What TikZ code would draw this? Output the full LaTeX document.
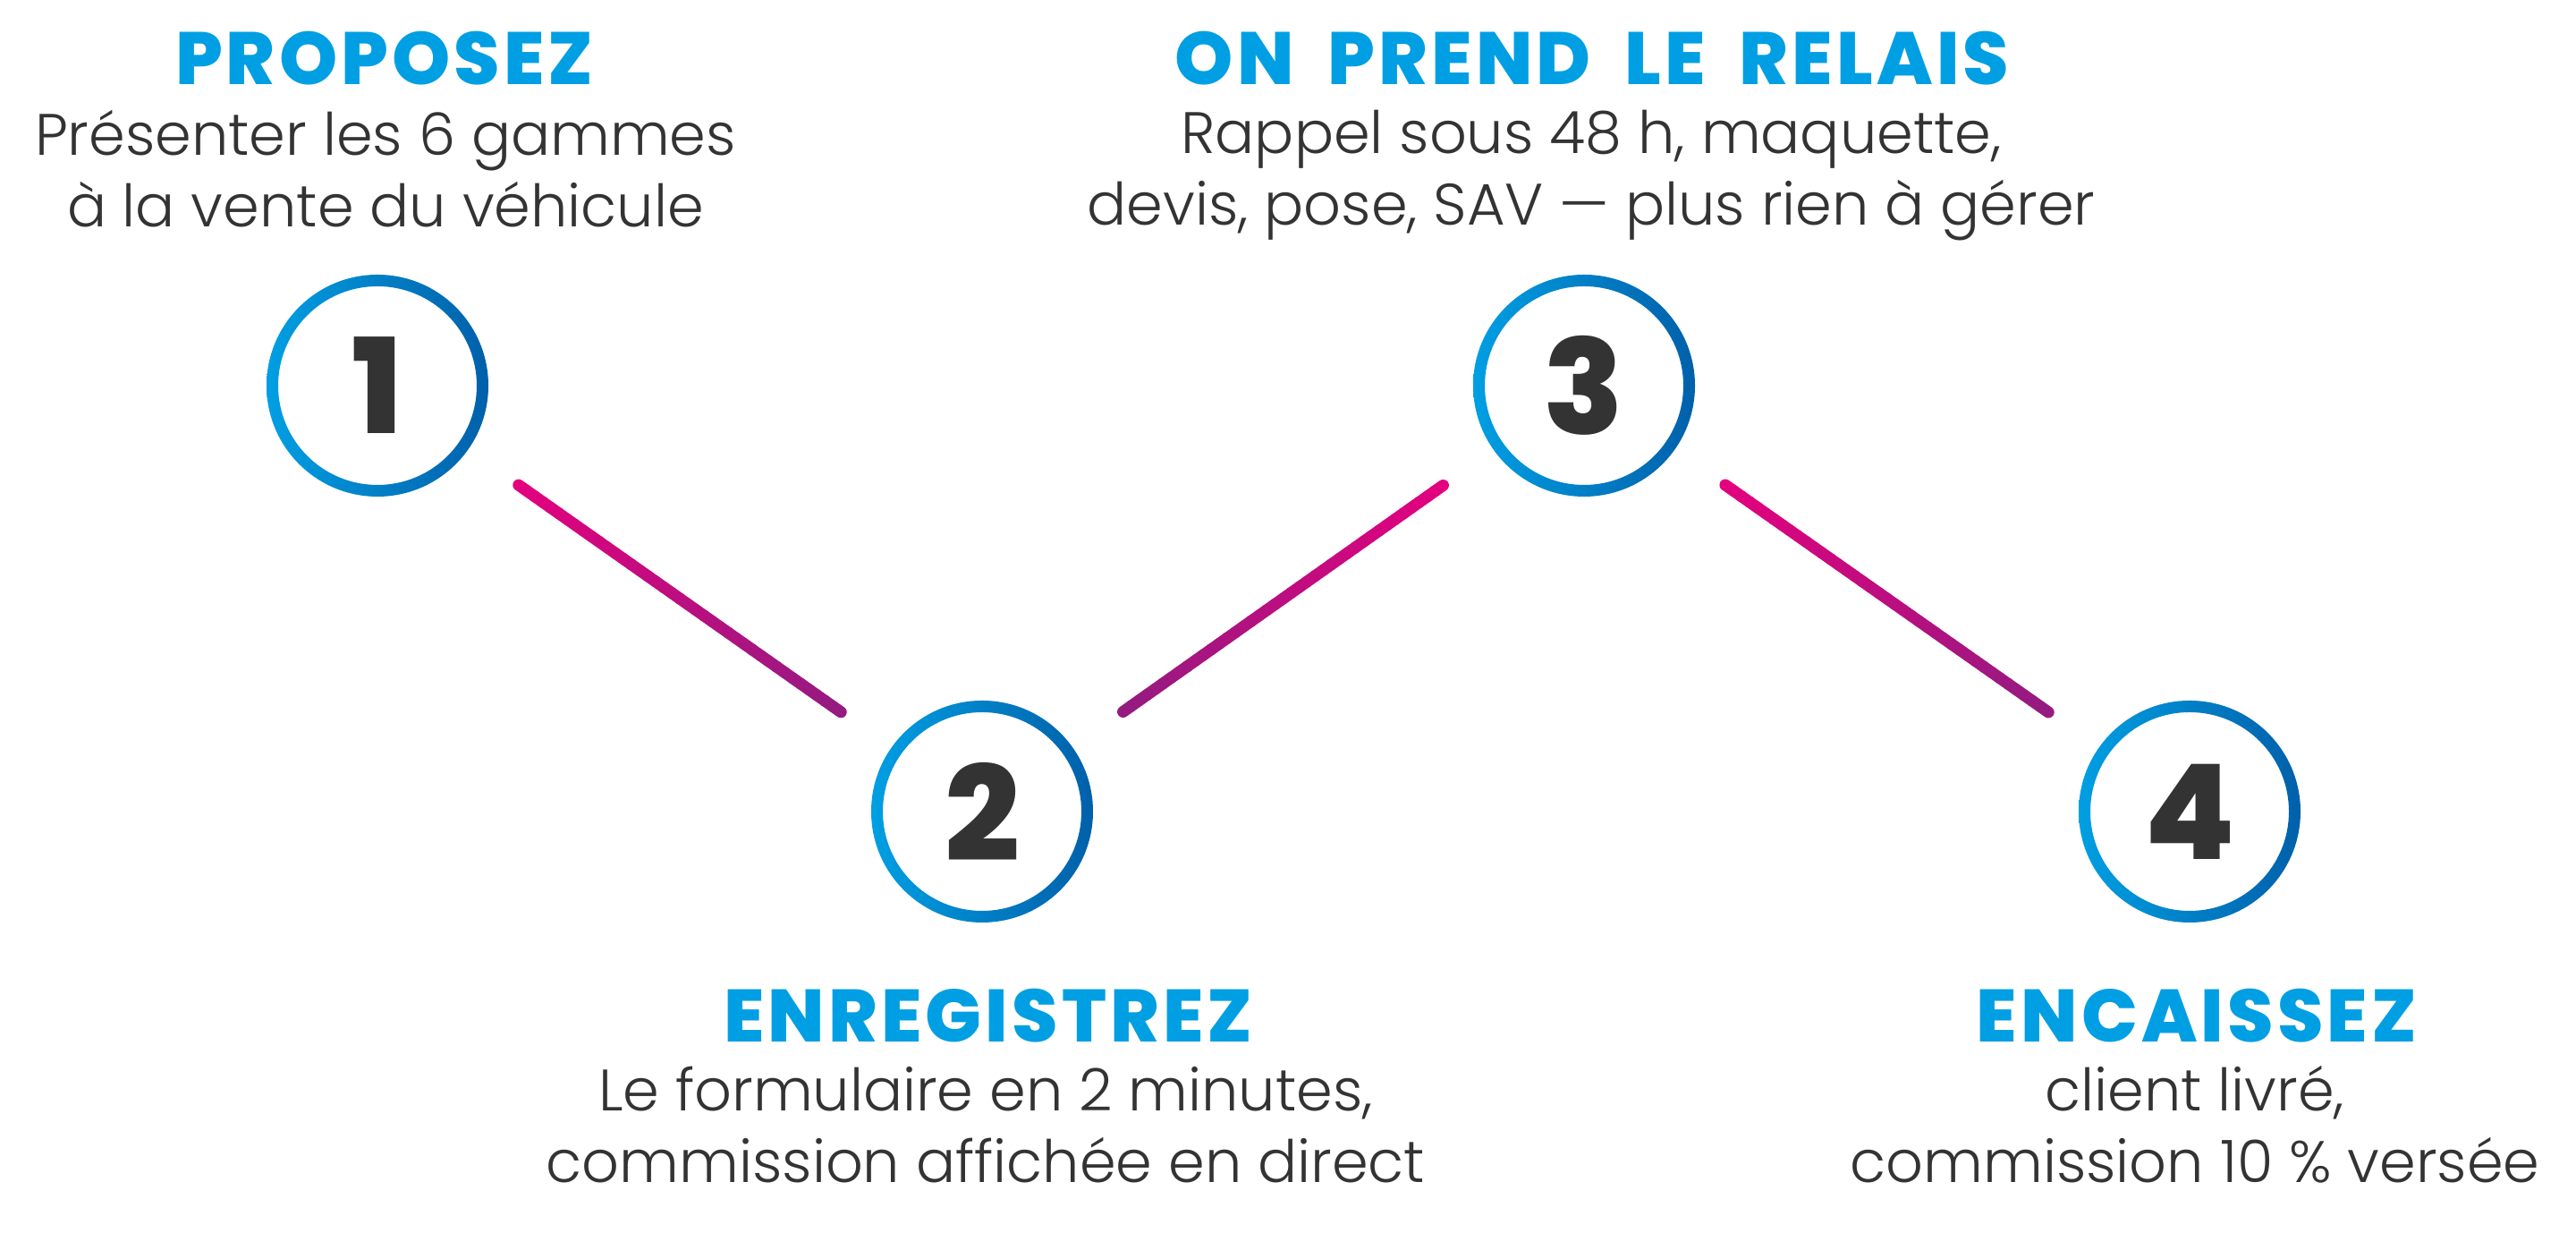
\documentclass[tikz,border=0pt]{standalone}
\usepackage{fontspec}
\setmainfont{Poppins}
\IfFontExistsTF{Poppins Light}{\newfontfamily\lightfont{Poppins Light}}{\newfontfamily\lightfont{Poppins}}
\IfFontExistsTF{Poppins ExtraBold}{\newfontfamily\heavyfont{Poppins ExtraBold}[LetterSpace=5, WordSpace=1.9]}{\newfontfamily\heavyfont{Poppins}[UprightFont=*-Bold, LetterSpace=7, WordSpace=1.9]}
\IfFontExistsTF{Poppins ExtraBold}{\newfontfamily\numfont{Poppins ExtraBold}}{\newfontfamily\numfont{Poppins}[UprightFont=*-Bold]}
\usetikzlibrary{calc}

\definecolor{titleblue}{HTML}{009FE3}
\definecolor{ringlight}{HTML}{009FE3}
\definecolor{ringdark}{HTML}{0060AA}
\definecolor{linktop}{HTML}{E5007E}
\definecolor{linkbot}{HTML}{951B81}
\definecolor{textgray}{HTML}{333333}

\begin{document}
\begin{tikzpicture}[
    stepnum/.style={circle, minimum size=2.48cm, inner sep=0pt, text=textgray,
        font=\numfont\fontsize{42}{42}\selectfont},
    steptitle/.style={anchor=base, text=titleblue,
        font=\heavyfont\fontsize{23.6}{28}\selectfont},
    stepdesc/.style={anchor=base, align=center, text=textgray,
        font=\lightfont\fontsize{18.6}{22.8}\selectfont},
    linkline/.style={line width=0.13cm, line cap=round}]
    \useasboundingbox[fill=white] (0,0) rectangle (28.8,13.78);

    % the four steps
    \node[stepnum] (n1) at (4.22,9.47) {1};
    \node[stepnum] (n2) at (10.98,4.71) {2};
    \node[stepnum] (n3) at (17.71,9.47) {3};
    \node[stepnum] (n4) at (24.48,4.71) {4};
    \foreach \n in {n1,n2,n3,n4}
        \shade[left color=ringlight, right color=ringdark, even odd rule]
            (\n.center) circle[radius=1.24cm] circle[radius=1.11cm];

    % titles and texts (base = last line)
    \node[steptitle] (t1) at (4.30,12.83) {PROPOSEZ};
    \node[stepdesc] (d1) at (4.31,11.24) {Présenter les 6 gammes\\à la vente du véhicule};
    \node[steptitle] (t2) at (11.05,2.13) {ENREGISTREZ};
    \node[stepdesc] (d2) at (11.02,0.56) {Le formulaire en 2 minutes,\\commission affichée en direct};
    \node[steptitle] (t3) at (17.80,12.83) {ON PREND LE RELAIS};
    \node[stepdesc] (d3) at (17.79,11.26) {Rappel sous 48 h, maquette,\\devis, pose, SAV — plus rien à gérer};
    \node[steptitle] (t4) at (24.56,2.13) {ENCAISSEZ};
    \node[stepdesc] (d4) at (24.54,0.56) {client livré,\\commission 10 \% versée};

    % links, pink at the top end, purple at the bottom end
    \foreach \p/\q in {n1/n2, n3/n2, n3/n4}{
        \coordinate (top) at ($(\p.center)!1.93cm!(\q.center)$);
        \coordinate (bot) at ($(\q.center)!1.93cm!(\p.center)$);
        \foreach \i in {1,...,40}{
            \pgfmathtruncatemacro{\mix}{100-(\i-0.5)*2.5}
            \draw[linkline, draw=linktop!\mix!linkbot]
                ($(top)!{(\i-1)/40}!(bot)$) -- ($(top)!{\i/40}!(bot)$);
        }
    }
\end{tikzpicture}
\end{document}
